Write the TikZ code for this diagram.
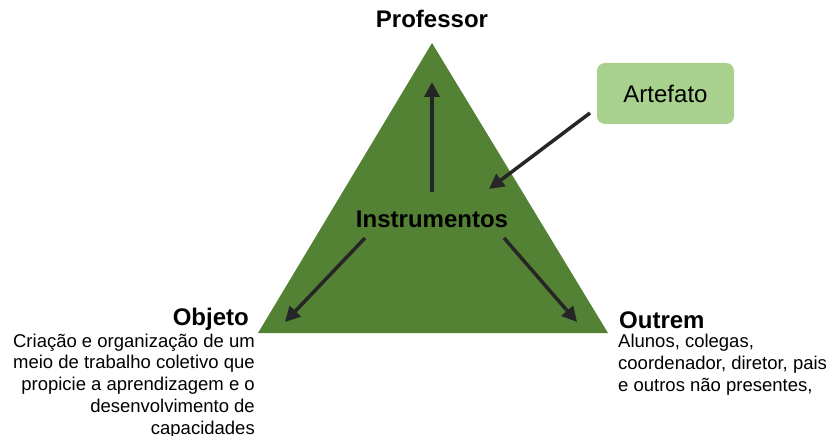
\documentclass[tikz,border=0pt]{standalone}
\usepackage{fontspec}
\setmainfont{Liberation Sans}
\usetikzlibrary{arrows.meta}
\definecolor{trigreen}{HTML}{548235}
\definecolor{boxgreen}{HTML}{A9D18E}
\definecolor{arrowgray}{HTML}{262626}
\tikzset{
  head/.style={font=\fontsize{24}{28}\selectfont\bfseries, inner sep=0pt},
  desc/.style={font=\fontsize{18.5}{21.7}\selectfont, inner sep=0pt},
  flow/.style={arrowgray, line width=3.5pt, -{Triangle[length=15pt,width=15pt]}},
}

\begin{document}
\begin{tikzpicture}[x=1pt,y=-1pt]
\useasboundingbox (0,0) rectangle (831,436);
% triangle
\coordinate (top) at (432,43);
\coordinate (bl) at (258,333);
\coordinate (br) at (608,333);
\fill[trigreen] (top) -- (bl) -- (br) -- cycle;
% corner labels
\node[head, anchor=base] (prof) at (432,28) {Professor};
\node[head, anchor=base] (instr) at (432,227) {Instrumentos};
\node[head, anchor=base east] (obj) at (249,325) {Objeto};
\node[head, anchor=base west] (out) at (619,328) {Outrem};
% base = last line
\node[desc, anchor=base east, align=right] (objtxt) at (255,434)
  {Criação e organização de um\\meio de trabalho coletivo que\\propicie a aprendizagem e o\\desenvolvimento de\\capacidades};
\node[desc, anchor=base west, align=left] (outtxt) at (618,391)
  {Alunos, colegas,\\coordenador, diretor, pais\\e outros não presentes,};
% artefato box
\node[fill=boxgreen, rounded corners=8pt, minimum width=137pt, minimum height=61pt,
  font=\fontsize{24}{28}\selectfont, inner sep=0pt] (art) at (665.5,93.5) {Artefato};
% arrow ends
\coordinate (startP) at (432,192);
\coordinate (tipP) at (432,82);
\coordinate (startA) at (590,113);
\coordinate (tipA) at (489,189);
\coordinate (startO) at (365,238);
\coordinate (tipO) at (285,322);
\coordinate (startR) at (504,238);
\coordinate (tipR) at (577,322);
% arrows
\draw[flow] (startP) -- (tipP);
\draw[flow] (startA) -- (tipA);
\draw[flow] (startO) -- (tipO);
\draw[flow] (startR) -- (tipR);
\end{tikzpicture}
\end{document}
